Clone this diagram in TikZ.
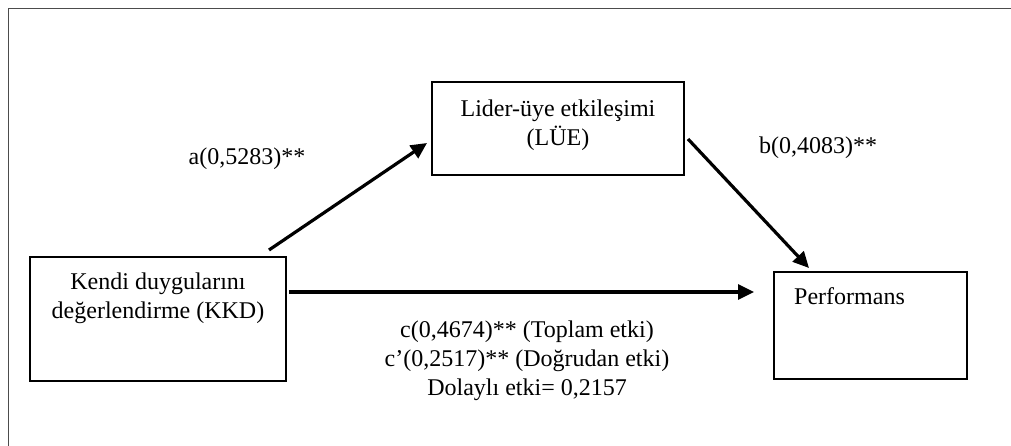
\documentclass[tikz,border=0pt]{standalone}
\usepackage{fontspec}
\setmainfont{Liberation Serif}
\usetikzlibrary{arrows.meta}
\begin{document}
\begin{tikzpicture}[x=1pt,y=-1pt,
  boxstyle/.style={draw=black,line width=1.6pt,rectangle,inner sep=0pt},
  txt/.style={font=\fontsize{24}{29}\selectfont,align=center,inner sep=0pt},
  arr/.style={line width=3.2pt,-{Triangle[length=16pt,width=15pt]}}]
\useasboundingbox (0,0) rectangle (1011,446);
\draw[line width=1pt,draw=black!70] (8,446) -- (8,9) -- (1011,9);
% boxes
\node[boxstyle,minimum width=256pt,minimum height=124pt] (kkd) at (158,319) {};
\node[boxstyle,minimum width=252pt,minimum height=93pt] (lue) at (558,128.5) {};
\node[boxstyle,minimum width=193pt,minimum height=107pt] (perf) at (870.5,325.5) {};
% box texts
\node[txt] (kkdt) at (158,298) {Kendi duygularını\\değerlendirme (KKD)};
\node[txt] (luet) at (558,125.5) {Lider-üye etkileşimi\\(LÜE)};
\node[txt,anchor=west] (perft) at (794,296.5) {Performans};
% arrow end points
\coordinate (a1) at (269,250);
\coordinate (a2) at (427,143);
\coordinate (b1) at (688,139);
\coordinate (b2) at (809,268);
\coordinate (c1) at (289,292);
\coordinate (c2) at (754,292);
\draw[arr] (a1) -- (a2);
\draw[arr] (b1) -- (b2);
\draw[arr] (c1) -- (c2);
% labels
\node[txt] (la) at (247,159) {a(0,5283)**};
\node[txt] (lb) at (818,148) {b(0,4083)**};
\node[txt] (lc) at (527,361) {c(0,4674)** (Toplam etki)\\c’(0,2517)** (Doğrudan etki)\\Dolaylı etki= 0,2157};
\end{tikzpicture}
\end{document}
